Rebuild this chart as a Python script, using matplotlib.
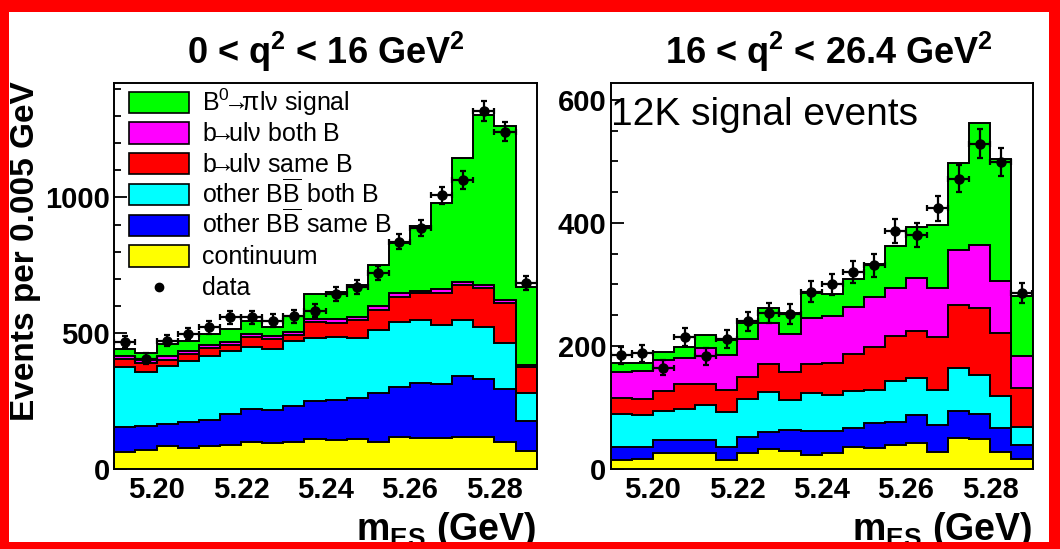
import numpy as np
import matplotlib
matplotlib.use("Agg")
import matplotlib.pyplot as plt
from matplotlib.patches import Rectangle
from matplotlib.ticker import MultipleLocator, FormatStrFormatter

plt.rcParams['font.family'] = ['Liberation Sans', 'DejaVu Sans']
plt.rcParams['font.weight'] = 'bold'
plt.rcParams['axes.labelweight'] = 'bold'
plt.rcParams['mathtext.fontset'] = 'custom'
plt.rcParams['mathtext.rm'] = 'Liberation Sans:weight=normal'
plt.rcParams['mathtext.bf'] = 'Liberation Sans:weight=bold'
plt.rcParams['mathtext.it'] = 'Liberation Sans:style=italic:weight=normal'
plt.rcParams['mathtext.default'] = 'rm'

# m_ES binning: 20 bins of 5 MeV
MES_LO, MES_HI, NBINS = 5.19, 5.29, 20

# ---- 0 < q^2 < 16 GeV^2 : fitted components (events per bin) ----
low_continuum = [64, 70, 85, 79, 85, 88, 98, 94, 101, 109,
                 107, 109, 101, 117, 113, 113, 117, 117, 101, 66]
low_bb_same = [92, 90, 81, 93, 95, 113, 123, 123, 131, 143,
               147, 151, 180, 186, 205, 199, 225, 213, 192, 112]
low_bb_both = [218, 198, 213, 226, 236, 235, 229, 223, 240, 231,
               233, 221, 231, 239, 230, 218, 206, 194, 172, 103]
low_bulv_same = [30, 31, 22, 25, 28, 20, 37, 37, 21, 57,
                 52, 67, 73, 92, 99, 117, 129, 141, 147, 96]
low_bulv_both = [12, 12, 15, 13, 12, 13, 10, 13, 13, 13,
                 13, 13, 16, 13, 8, 14, 13, 12, 10, 4]
low_signal = [26, 27, 44, 36, 42, 47, 49, 34, 57, 90,
              100, 116, 150, 184, 240, 319, 453, 626, 641, 289]
low_data = [468, 406, 473, 496, 521, 558, 559, 546, 563, 582,
            645, 670, 722, 837, 888, 1007, 1063, 1318, 1242, 686]

# ---- 16 < q^2 < 26.4 GeV^2 ----
high_continuum = [15, 16, 26, 26, 26, 14, 26, 33, 30, 22,
                  26, 36, 34, 39, 43, 27, 51, 49, 28, 16]
high_bb_same = [21, 20, 21, 21, 21, 22, 26, 27, 34, 40,
                35, 30, 40, 37, 45, 45, 44, 41, 38, 23]
high_bb_both = [54, 51, 48, 51, 57, 57, 62, 65, 48, 61,
                59, 60, 55, 67, 60, 56, 69, 63, 53, 30]
high_bulv_same = [25, 26, 32, 40, 34, 36, 36, 46, 46, 48,
                  52, 61, 70, 73, 77, 86, 103, 108, 102, 62]
high_bulv_both = [43, 47, 50, 42, 58, 56, 62, 66, 62, 75,
                  76, 77, 81, 78, 85, 80, 89, 103, 84, 53]
high_signal = [14, 13, 13, 18, 22, 24, 26, 24, 33, 40,
               37, 45, 54, 68, 84, 103, 141, 198, 199, 98]
high_data = [185, 188, 165, 214, 183, 211, 240, 254, 252, 288,
             300, 321, 331, 387, 380, 424, 472, 529, 499, 286]

ARROW = r"$\!\!\!{\rightarrow}\!\!\!$"
component_labels = [r"B$^{0}$" + ARROW + "πlν signal", "b" + ARROW + "ulν both B",
                    "b" + ARROW + "ulν same B",
                    r"other B$\overline{\mathrm{B}}$ both B",
                    r"other B$\overline{\mathrm{B}}$ same B", "continuum"]
# colours from bottom of the stack to top
stack_colors = ["#ffff00", "#0000ff", "#00ffff", "#ff0000", "#ff00ff", "#00ff00"]

edges = np.linspace(MES_LO, MES_HI, NBINS + 1)
centers = 0.5 * (edges[:-1] + edges[1:])
half_bin = 0.5 * (edges[1] - edges[0])

W, H = 1060, 549
fig = plt.figure(figsize=(W / 100, H / 100), dpi=100)
fig.patch.set_facecolor("white")


def px_axes(x0, x1, y_top, y_bot):
    return fig.add_axes([x0 / W, (H - y_bot) / H, (x1 - x0) / W, (y_bot - y_top) / H])


def draw_stack(ax, comps, data):
    cum = np.cumsum(np.array(comps, dtype=float), axis=0)
    # draw the tallest layer first so lower ones sit on top of it
    for top, col in reversed(list(zip(cum, stack_colors))):
        ax.stairs(top, edges, baseline=0, fill=True, facecolor=col,
                  edgecolor="black", linewidth=1.4, zorder=2)
    data = np.asarray(data, dtype=float)
    ax.errorbar(centers, data, xerr=half_bin, yerr=np.sqrt(data), fmt="o",
                color="black", ms=6.5, elinewidth=1.6, capsize=2.5, capthick=1.6,
                zorder=5)


def style_axes(ax, ymax, major, minor):
    ax.set_xlim(MES_LO, MES_HI)
    ax.set_ylim(0, ymax)
    ax.xaxis.set_major_locator(MultipleLocator(0.02))
    ax.xaxis.set_minor_locator(MultipleLocator(0.005))
    ax.xaxis.set_major_formatter(FormatStrFormatter("%.2f"))
    ax.yaxis.set_major_locator(MultipleLocator(major))
    ax.yaxis.set_minor_locator(MultipleLocator(minor))
    ax.tick_params(which="both", direction="in", top=False, right=False,
                   width=1.3, labelsize=21)
    ax.tick_params(which="major", length=9.5)
    ax.tick_params(which="minor", length=5)
    ax.tick_params(axis="x", pad=5)
    ax.tick_params(axis="y", pad=3)
    for s in ax.spines.values():
        s.set_linewidth(1.4)
    ax.set_xlabel(r"m$_{\mathbf{ES}}$ (GeV)", fontsize=27, fontweight="bold",
                  ha="right", va="baseline")
    ax.xaxis.set_label_coords(1.0, -0.184)


# left panel
ax1 = px_axes(114.3, 536.7, 82.7, 469)
draw_stack(ax1, [low_continuum, low_bb_same, low_bb_both,
                 low_bulv_same, low_bulv_both, low_signal], low_data)
style_axes(ax1, 1422, 500, 100)
ax1.set_title(r"0 < q$^{\mathbf{2}}$ < 16 GeV$^{\mathbf{2}}$", fontsize=26,
              fontweight="bold", pad=13.5)
ax1.set_ylabel("Events per 0.005 GeV", fontsize=24, fontweight="bold", va="center")
ax1.yaxis.set_label_coords(-0.211, 0.563)

# legend, top-left inside the left panel
row_y = [0.9487, 0.8698, 0.7903, 0.7111, 0.6316, 0.5514, 0.4719]
legend_colors = stack_colors[::-1]
for yc, lab, col in zip(row_y, component_labels, legend_colors):
    ax1.add_patch(Rectangle((0.0348, yc - 0.0272), 0.142, 0.0544,
                            transform=ax1.transAxes, facecolor=col,
                            edgecolor="black", linewidth=1.2, zorder=6))
    ax1.text(0.2076, yc - 0.0207, lab, transform=ax1.transAxes, fontsize=18,
             fontweight="normal", va="baseline", ha="left", zorder=6)
ax1.plot([0.106], [row_y[-1]], "o", color="black", ms=6,
         transform=ax1.transAxes, zorder=6)
ax1.text(0.2076, row_y[-1] - 0.0207, "data", transform=ax1.transAxes,
         fontsize=18, fontweight="normal", va="baseline", ha="left", zorder=6)

# right panel
ax2 = px_axes(610.7, 1032.5, 82.7, 469)
draw_stack(ax2, [high_continuum, high_bb_same, high_bb_both,
                 high_bulv_same, high_bulv_both, high_signal], high_data)
style_axes(ax2, 628, 200, 50)
ax2.set_title(r"16 < q$^{\mathbf{2}}$ < 26.4 GeV$^{\mathbf{2}}$", fontsize=26,
              fontweight="bold", pad=13.5, x=0.517)
ax2.text(0.0, 0.8905, "12K signal events", transform=ax2.transAxes,
         fontsize=28, fontweight="normal", va="baseline", ha="left", zorder=7)

# red frame round the whole figure
frame = dict(transform=fig.transFigure, facecolor="#ff0000", edgecolor="none",
             zorder=20)
fig.add_artist(Rectangle((0, 1 - 12 / H), 1, 12 / H, **frame))
fig.add_artist(Rectangle((0, 0), 1, 7 / H, **frame))
fig.add_artist(Rectangle((0, 0), 9 / W, 1, **frame))
fig.add_artist(Rectangle((1 - 11 / W, 0), 11 / W, 1, **frame))

fig.savefig("out.png", dpi=100)
